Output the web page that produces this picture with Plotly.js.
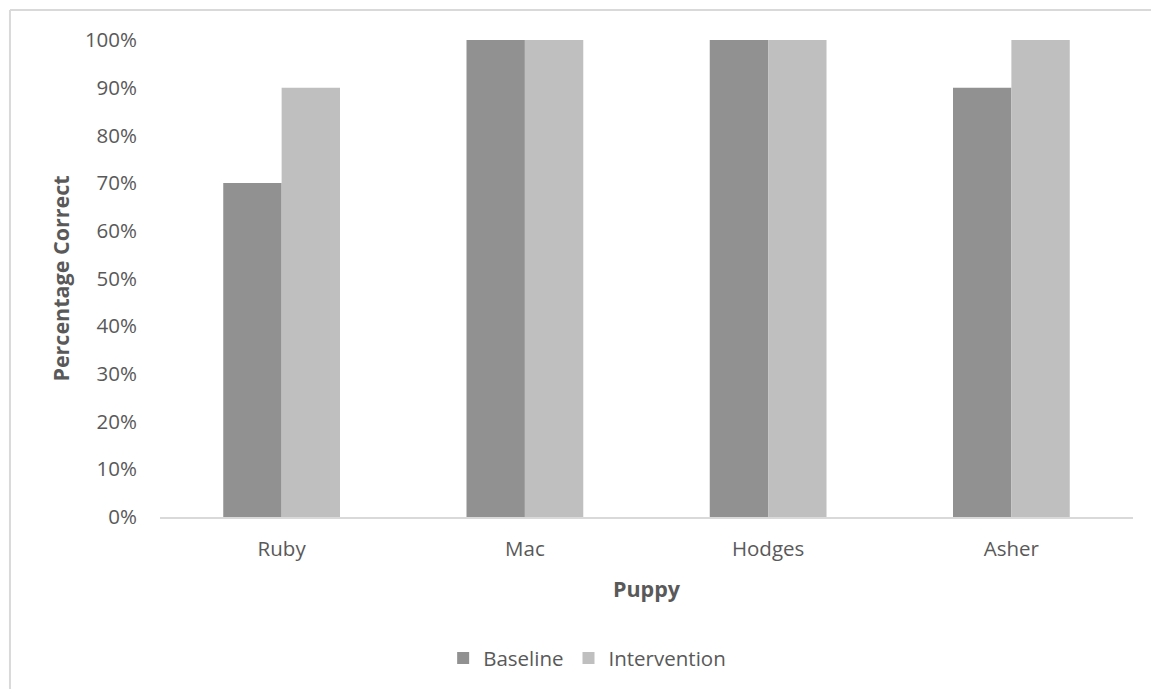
<!DOCTYPE html>
<html>
<head>
<meta charset="utf-8">
<script src="https://cdn.plot.ly/plotly-3.0.1.min.js"></script>
<style>html,body{margin:0;padding:0;background:#fff;}#chart{width:1151px;height:689px;}</style>
</head>
<body>
<div id="chart"></div>
<script>
const categories = ["Ruby", "Mac", "Hodges", "Asher"];
const baseline = [0.70, 1.00, 1.00, 0.90];
const intervention = [0.90, 1.00, 1.00, 1.00];
const yTickVals = [0, 0.1, 0.2, 0.3, 0.4, 0.5, 0.6, 0.7, 0.8, 0.9, 1.0];
const yTickText = ["0%", "10%", "20%", "30%", "40%", "50%", "60%", "70%", "80%", "90%", "100%"];

const font = "Open Sans, sans-serif";
const textColor = "#595959";
const tickSize = 20.5;
const titleSize = 21.5;

const traces = [
  {type: "bar", name: "Baseline", x: categories, y: baseline, marker: {color: "#919191"}},
  {type: "bar", name: "Intervention", x: categories, y: intervention, marker: {color: "#bfbfbf"}}
];

const layout = {
  width: 1151, height: 689,
  margin: {l: 160, r: 18, t: 40, b: 171},
  paper_bgcolor: "#ffffff", plot_bgcolor: "#ffffff",
  font: {family: font, size: tickSize, color: textColor},
  barmode: "group", bargap: 0.52, bargroupgap: 0,
  showlegend: true,
  legend: {orientation: "h", x: 0.439, xanchor: "center", y: -0.293, yanchor: "middle",
           font: {family: font, size: tickSize, color: textColor}, itemsizing: "constant"},
  xaxis: {
    showgrid: false, zeroline: false, showline: true, linecolor: "#d9d9d9", linewidth: 2,
    ticks: "", tickfont: {family: font, size: tickSize, color: textColor},
    ticklabelstandoff: 12,
    title: {text: "<b>Puppy</b>", font: {family: font, size: titleSize, color: textColor}, standoff: 21}
  },
  yaxis: {
    range: [0, 1], showgrid: false, zeroline: false, showline: false,
    tickvals: yTickVals, ticktext: yTickText, ticks: "",
    tickfont: {family: font, size: tickSize, color: textColor},
    ticklabelstandoff: 22,
    title: {text: "<b>Percentage Correct</b>", font: {family: font, size: titleSize, color: textColor}, standoff: 9}
  },
  shapes: [
    {type: "line", xref: "paper", yref: "paper", x0: -0.1542, x1: -0.1542, y0: 1.0628, y1: -0.4, line: {color: "#d9d9d9", width: 2}},
    {type: "line", xref: "paper", yref: "paper", x0: -0.1542, x1: 1.05, y0: 1.0628, y1: 1.0628, line: {color: "#d9d9d9", width: 2}}
  ]
};

Plotly.newPlot("chart", traces, layout, {displayModeBar: false, staticPlot: true});
</script>
</body>
</html>
